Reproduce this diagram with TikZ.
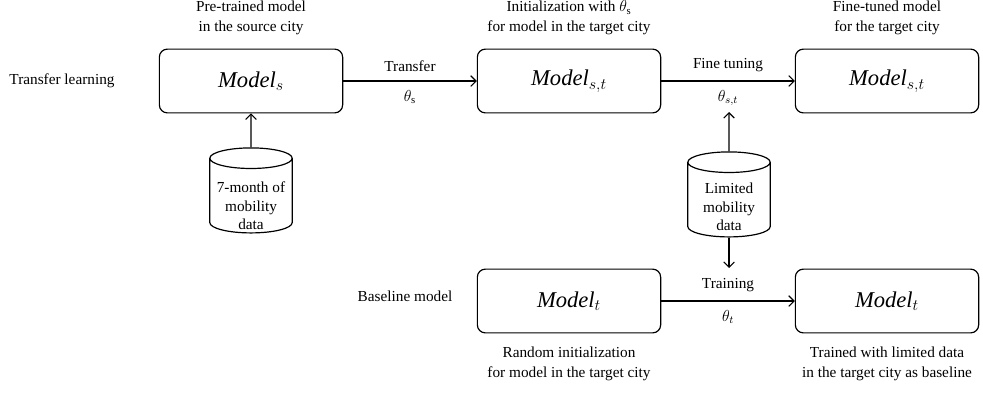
\documentclass[tikz,border=0pt]{standalone}
\usepackage{fontspec}
\setmainfont{Liberation Serif}
\usetikzlibrary{shapes.geometric, arrows.meta}
\tikzset{
  model/.style={rectangle, rounded corners=6pt, draw, line width=0.9pt, minimum width=138pt, minimum height=48pt, font=\fontsize{17}{20}\selectfont},
  store/.style={cylinder, draw, line width=0.9pt, shape border rotate=90, aspect=0.25, inner xsep=31pt, inner ysep=3pt, minimum height=64pt},
  txt/.style={align=center, font=\fontsize{11.5}{15}\selectfont},
  link/.style={line width=0.8pt, -{Straight Barb[length=4pt, width=8pt]}}
}
\begin{document}
\begin{tikzpicture}[x=0.2646mm, y=-0.2646mm]
      \useasboundingbox (0,0) rectangle (983,394);
      \node[model] (ms) at (251, 81) [] {$\mathit{Model}_s$};
      \node[model] (mst) at (569, 81) [] {$\mathit{Model}_{s,t}$};
      \node[model] (mft) at (887, 81) [] {$\mathit{Model}_{s,t}$};
      \node[model] (mt) at (569, 301) [] {$\mathit{Model}_t$};
      \node[model] (mtt) at (887, 301) [] {$\mathit{Model}_t$};
      \node[store] (d1) at (251, 201) [] {};
      \node[store] (d2) at (729, 205) [] {};
      \node[txt, font=\fontsize{11.5}{14}\selectfont] (d1t) at (251, 206) [] {7-month of\\mobility\\data};
      \node[txt, font=\fontsize{11.5}{14}\selectfont] (d2t) at (729, 207) [] {Limited\\mobility\\data};
      \coordinate (up) at (729, 112);
      \coordinate (down) at (729, 268);

      \node[txt] (l1) at (62, 81) [] {Transfer learning};
      \node[txt] (l2) at (405, 296) [] {Baseline model};
      \node[txt] (c1) at (251, 18) [] {Pre-trained model\\in the source city};
      \node[txt] (c2) at (569, 18) [] {Initialization with $\theta_{\mathrm{s}}$\\for model in the target city};
      \node[txt] (c3) at (887, 18) [] {Fine-tuned model\\for the target city};
      \node[txt] (c4) at (569, 364) [] {Random initialization\\for model in the target city};
      \node[txt] (c5) at (887, 364) [] {Trained with limited data\\in the target city as baseline};

      \foreach \source/\dest/\above/\below in {ms/mst/Transfer/$\theta_{\mathrm{s}}$, mst/mft/Fine tuning/$\theta_{s,t}$, mt/mtt/Training/$\theta_t$}
        \path[link] (\source) edge node[txt, above=3pt] {\above} node[txt, below=3pt] {\below} (\dest);
      \foreach \source/\dest in {d1/ms, d2/up, d2/down}
        \draw[link] (\source) -- (\dest);
    \end{tikzpicture}
\end{document}
